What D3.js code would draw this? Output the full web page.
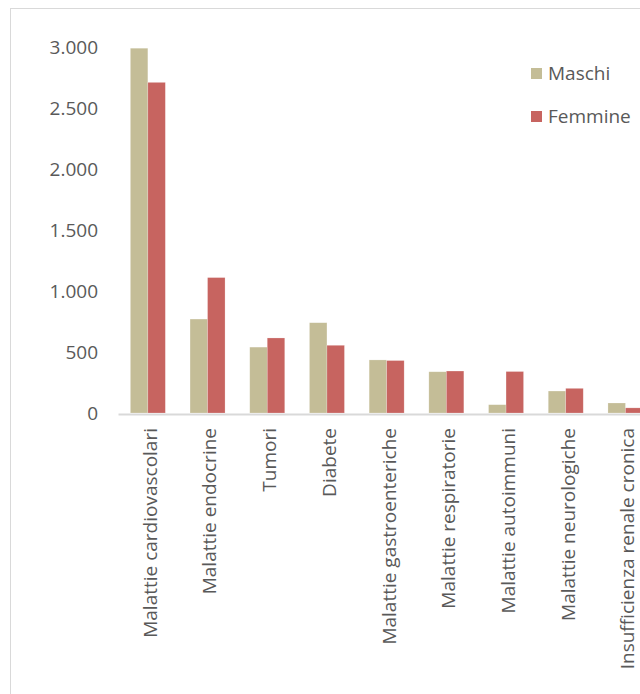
<!DOCTYPE html>
<meta charset="utf-8">
<style>
  body { margin: 0; background: #fff; }
  text { font-family: "Open Sans", sans-serif; fill: #595959; }
  .bar { stroke: #fff; stroke-opacity: 0.35; stroke-width: 0.6px; }
</style>
<body>
<script src="https://d3js.org/d3.v7.min.js"></script>
<script>
  // categories (the last one is cut by the right edge, as in the original)
  var categories = ["Malattie cardiovascolari", "Malattie endocrine", "Tumori", "Diabete",
    "Malattie gastroenteriche", "Malattie respiratorie", "Malattie autoimmuni",
    "Malattie neurologiche", "Insufficienza renale cronica"];
  var series = ["Maschi", "Femmine"];
  var maschi  = [2990, 770, 540, 740, 435, 338, 68, 180, 82];
  var femmine = [2710, 1110, 615, 555, 430, 344, 340, 202, 42];
  var yTicks = [0, 500, 1000, 1500, 2000, 2500, 3000];

  var colors = ["#C4BD97", "#C76460"];
  var width = 640, height = 694;

  var svg = d3.select("body").append("svg")
      .attr("width", width)
      .attr("height", height);

  // chart frame
  svg.append("rect")
      .attr("x", 10.5).attr("y", 8.5)
      .attr("width", 700).attr("height", 700)
      .attr("fill", "none")
      .attr("stroke", "#D9D9D9");

  var x0 = d3.scaleBand()
      .domain(categories)
      .range([118, 118 + 9 * 59.7])
      .paddingInner(0.414)
      .paddingOuter(0.207);

  var x1 = d3.scaleBand()
      .domain(series)
      .range([0, x0.bandwidth()]);

  var y = d3.scaleLinear()
      .domain([0, 3000])
      .range([413, 47]);

  var it = d3.formatLocale({decimal: ",", thousands: ".", grouping: [3], currency: ["", "€"]});
  var fmt = it.format(",d");

  // y axis labels only
  var yAxis = svg.append("g")
      .attr("transform", "translate(98,0)")
      .call(d3.axisLeft(y).tickValues(yTicks).tickFormat(fmt).tickSize(0).tickPadding(0));
  yAxis.select(".domain").remove();
  yAxis.selectAll("text")
      .style("font-size", "19px")
      .style("font-family", "'Open Sans', sans-serif")
      .attr("fill", "#595959");

  // bars
  var rows = categories.map(function(c, i) {
    return {cat: c, values: [maschi[i], femmine[i]]};
  });

  var groups = svg.selectAll("g.grp")
      .data(rows)
    .enter().append("g")
      .attr("class", "grp")
      .attr("transform", function(d) { return "translate(" + x0(d.cat) + ",0)"; });

  groups.selectAll("rect")
      .data(function(d) { return d.values.map(function(v, j) { return {s: series[j], v: v, j: j}; }); })
    .enter().append("rect")
      .attr("class", "bar")
      .attr("x", function(d) { return x1(d.s); })
      .attr("width", x1.bandwidth())
      .attr("y", function(d) { return y(d.v); })
      .attr("height", function(d) { return y(0) - y(d.v); })
      .attr("fill", function(d) { return colors[d.j]; });

  // x axis baseline + rotated labels
  var xAxis = svg.append("g")
      .attr("transform", "translate(0," + y(0) + ")")
      .call(d3.axisBottom(x0).tickSize(0));
  xAxis.select(".domain")
      .attr("stroke", "#D9D9D9")
      .attr("stroke-width", 2)
      .attr("transform", "translate(0,1)");
  xAxis.selectAll("text")
      .style("font-size", "19px")
      .style("font-family", "'Open Sans', sans-serif")
      .attr("fill", "#595959")
      .attr("text-anchor", "end")
      .attr("transform", "rotate(-90)")
      .attr("x", -15)
      .attr("y", 0)
      .attr("dy", "0.47em");

  // legend
  var legend = svg.selectAll("g.leg")
      .data(series)
    .enter().append("g")
      .attr("class", "leg")
      .attr("transform", function(d, i) { return "translate(531," + (68 + i * 43) + ")"; });
  legend.append("rect")
      .attr("width", 11).attr("height", 11)
      .attr("fill", function(d, i) { return colors[i]; });
  legend.append("text")
      .attr("x", 17).attr("y", 11.5)
      .style("font-size", "19px")
      .text(function(d) { return d; });
</script>
</body>
